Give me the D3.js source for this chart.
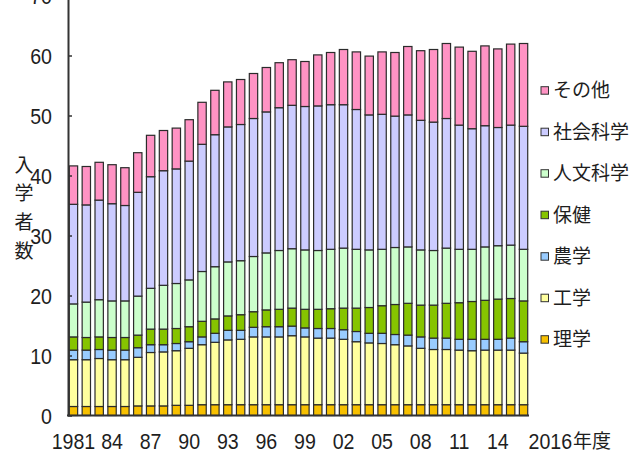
<!DOCTYPE html>
<html lang="ja">
<head>
	<meta charset="utf-8">
	<title>入学者数</title>
	<script src="https://d3js.org/d3.v7.min.js"></script>
	<style>
		body { margin: 0; background: #fff; }
		.num { font-family: "Liberation Sans Narrow", "Liberation Sans", sans-serif; font-size: 22.5px; fill: #1e1e1e; }
		.jp { font-family: "Noto Sans CJK JP", sans-serif; font-size: 19px; fill: #1e1e1e; }
	</style>
</head>
<body>
	<script>
		var w = 639;
		var h = 453;

		// 年度 (categories)
		var years = ["1981","1982","1983","1984","1985","1986","1987","1988","1989","1990",
			"1991","1992","1993","1994","1995","1996","1997","1998","1999","2000",
			"2001","2002","2003","2004","2005","2006","2007","2008","2009","2010",
			"2011","2012","2013","2014","2015","2016"];

		// x tick labels
		var xTickYears = ["1981","1984","1987","1990","1993","1996","1999","2002","2005","2008","2011","2014"];
		var xTickText = ["1981","84","87","90","93","96","99","02","05","08","11","14"];

		var yTicks = [0, 10, 20, 30, 40, 50, 60, 70];

		// series values (万人)
		var rigaku = [1.5,1.5,1.5,1.5,1.5,1.6,1.6,1.6,1.7,1.7,
			1.8,1.8,1.8,1.8,1.8,1.8,1.8,1.8,1.8,1.8,
			1.8,1.8,1.8,1.8,1.8,1.8,1.8,1.8,1.8,1.8,
			1.8,1.8,1.8,1.8,1.8,1.8];
		var kougaku = [7.8,7.8,8.0,7.8,7.8,8.1,8.9,9.0,9.1,9.5,
			10.0,10.4,10.8,10.9,11.3,11.3,11.3,11.5,11.3,11.1,
			11.1,10.9,10.5,10.3,10.2,10.0,9.8,9.4,9.2,9.2,
			9.1,9.0,9.1,9.1,9.1,8.6];
		var nougaku = [1.6,1.6,1.5,1.6,1.6,1.6,1.3,1.2,1.2,1.1,
			1.3,1.5,1.6,1.5,1.6,1.7,1.7,1.6,1.5,1.6,
			1.6,1.6,1.7,1.6,1.7,1.7,1.8,1.9,1.9,1.9,
			1.8,1.9,1.8,1.8,2.0,1.9];
		var hoken = [2.2,2.1,2.1,2.1,2.1,2.1,2.6,2.6,2.5,2.5,
			2.6,2.4,2.4,2.6,2.6,2.8,2.9,3.0,3.1,3.2,
			3.3,3.6,3.9,4.3,4.6,5.0,5.3,5.3,5.5,5.8,
			6.1,6.3,6.5,6.7,6.6,6.8];
		var jinbun = [5.5,5.9,6.2,6.1,6.1,6.5,6.8,7.3,7.5,7.8,
			8.3,8.7,9.0,9.0,9.2,9.5,9.8,9.9,9.9,9.8,
			9.9,10.0,9.8,9.6,9.4,9.5,9.4,9.2,9.1,9.2,
			8.9,8.7,8.9,8.9,8.9,8.6];
		var shakai = [16.6,16.2,16.6,16.2,15.9,17.3,18.6,19.1,19.1,19.8,
			21.2,22.0,22.5,22.7,23.0,23.5,23.8,23.9,23.9,24.1,
			24.1,23.9,23.3,22.5,22.5,21.9,22.0,21.6,21.4,21.6,
			20.7,20.1,20.2,19.7,20.0,20.5];
		var sonota = [6.4,6.4,6.3,6.5,6.3,6.6,6.9,6.7,6.8,6.9,
			7.0,7.4,7.5,7.5,7.5,7.4,7.5,7.6,7.5,8.5,
			8.7,9.2,9.6,9.8,10.4,10.6,11.4,11.6,12.1,12.5,
			13.0,12.9,13.3,13.1,13.5,13.8];

		var keys = ["理学", "工学", "農学", "保健", "人文科学", "社会科学", "その他"];
		var seriesData = [rigaku, kougaku, nougaku, hoken, jinbun, shakai, sonota];
		var colors = ["#f7c000", "#ffff9e", "#99ccff", "#86c400", "#ccffcc", "#ccccff", "#ff93c4"];

		// rows for d3.stack
		var rows = years.map(function(y, i) {
			var r = { year: y };
			keys.forEach(function(k, j) { r[k] = seriesData[j][i]; });
			return r;
		});

		var svg = d3.select("body")
					.append("svg")
					.attr("width", w)
					.attr("height", h);

		var x = d3.scaleBand()
				  .domain(years)
				  .range([68, 529])
				  .paddingInner(0.35)
				  .paddingOuter(0.1);

		var y = d3.scaleLinear()
				  .domain([0, 70])
				  .range([415.5, -4.5]);

		var color = d3.scaleOrdinal().domain(keys).range(colors);

		var stacked = d3.stack().keys(keys)(rows);

		// source digits are tall and narrow -> squeeze horizontally
		var sx = 0.87;

		// bars
		var layers = svg.append("g")
						.selectAll("g")
						.data(stacked)
						.join("g")
						.attr("fill", function(d) { return color(d.key); });

		layers.selectAll("rect")
			  .data(function(d) { return d; })
			  .join("rect")
			  .attr("x", function(d) { return x(d.data.year); })
			  .attr("y", function(d) { return y(d[1]); })
			  .attr("width", x.bandwidth())
			  .attr("height", function(d) { return y(d[0]) - y(d[1]); })
			  .attr("stroke", "#2b2b2b")
			  .attr("stroke-width", 1.2);

		// y axis
		var yAxis = svg.append("g")
					   .attr("transform", "translate(68,0)")
					   .call(d3.axisLeft(y).tickValues(yTicks).tickSize(-4).tickSizeOuter(0).tickPadding(16));
		yAxis.attr("font-size", null).attr("font-family", null);
		yAxis.select(".domain").attr("stroke", "#333").attr("stroke-width", 2);
		yAxis.selectAll(".tick line").attr("stroke", "#333").attr("stroke-width", 1.5);
		yAxis.selectAll(".tick text")
			 .attr("class", "num")
			 .attr("x", -16 / sx)
			 .attr("dy", "0.36em")
			 .attr("transform", "scale(" + sx + ",1)");

		// x axis line
		svg.append("line")
		   .attr("x1", 67).attr("x2", 529)
		   .attr("y1", y(0)).attr("y2", y(0))
		   .attr("stroke", "#333")
		   .attr("stroke-width", 2);

		// x labels
		var labelY = 448.5;
		svg.append("g")
		   .selectAll("text")
		   .data(xTickYears)
		   .join("text")
		   .attr("class", "num")
		   .attr("text-anchor", "middle")
		   .attr("transform", function(d) {
			   return "translate(" + (x(d) + x.bandwidth() / 2) + "," + labelY + ") scale(" + sx + ",1)";
		   })
		   .text(function(d, i) { return xTickText[i]; });

		// last label: 2016年度
		var lastX = x("2016") + x.bandwidth() / 2 + 5;
		var last = svg.append("text")
					  .attr("class", "num")
					  .attr("transform", "translate(" + lastX + "," + labelY + ") scale(" + sx + ",1)")
					  .text("2016");
		var lastW = last.node().getComputedTextLength() * sx;
		svg.append("text")
		   .attr("x", lastX + lastW + 1)
		   .attr("y", labelY - 1)
		   .attr("class", "jp")
		   .text("年度");

		// y title (vertical)
		var yTitle = ["入", "学", "者", "数"];
		svg.append("g")
		   .selectAll("text")
		   .data(yTitle)
		   .join("text")
		   .attr("class", "jp")
		   .attr("x", 24)
		   .attr("y", function(d, i) { return 165 + i * 28.7; })
		   .attr("dy", "0.35em")
		   .attr("text-anchor", "middle")
		   .text(function(d) { return d; });

		// legend (top to bottom = top of stack first)
		var legendKeys = keys.slice().reverse();
		var legend = svg.append("g")
						.selectAll("g")
						.data(legendKeys)
						.join("g")
						.attr("transform", function(d, i) { return "translate(541," + (90.7 + i * 41.5) + ")"; });

		legend.append("rect")
			  .attr("x", 0).attr("y", -4)
			  .attr("width", 7.5).attr("height", 7.5)
			  .attr("fill", function(d) { return color(d); })
			  .attr("stroke", "#333")
			  .attr("stroke-width", 1);

		legend.append("text")
			  .attr("class", "jp")
			  .attr("x", 12)
			  .attr("dy", "0.35em")
			  .text(function(d) { return d; });
	</script>
</body>
</html>
